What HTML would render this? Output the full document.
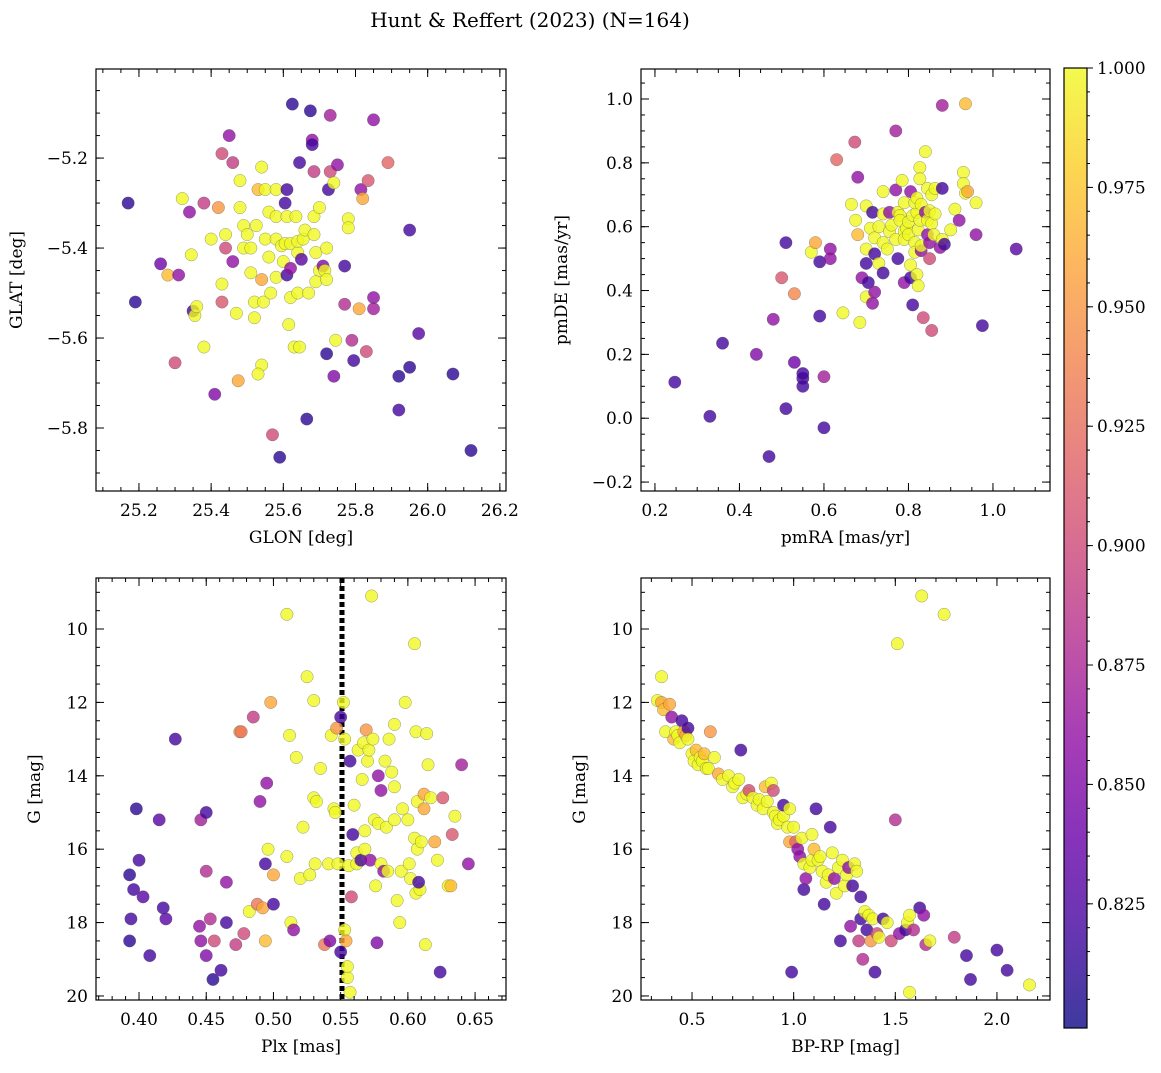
<!DOCTYPE html>
<html><head><meta charset="utf-8">
<style>
html,body{margin:0;padding:0;background:#fff;}
svg text{font-family:"DejaVu Serif","Liberation Serif",serif;fill:#000;}
</style></head>
<body>
<svg id="fig" width="1161" height="1068" viewBox="0 0 1161 1068" xmlns="http://www.w3.org/2000/svg">
<rect width="1161" height="1068" fill="#fff"/>
<text x="530" y="27" font-size="20" text-anchor="middle">Hunt &amp; Reffert (2023) (N=164)</text>
</svg>
<script>
// ---------- data ----------
const p1Glon=[25.17,25.19,25.26,25.28,25.30,25.31,25.32,25.34,25.345,25.35,25.355,25.36,25.38,25.38,25.40,25.41,25.42,25.43,25.43,25.43,25.44,25.44,25.45,25.46,25.46,25.47,25.475,25.48,25.48,25.49,25.49,25.50,25.51,25.51,25.52,25.52,25.525,25.53,25.54,25.54,25.545,25.55,25.55,25.54,25.53,25.56,25.56,25.565,25.57,25.58,25.58,25.58,25.58,25.595,25.60,25.605,25.61,25.61,25.615,25.605,25.59,25.625,25.62,25.62,25.61,25.62,25.635,25.64,25.64,25.63,25.645,25.64,25.65,25.645,25.655,25.66,25.665,25.67,25.675,25.68,25.68,25.685,25.685,25.69,25.70,25.69,25.685,25.70,25.71,25.715,25.72,25.72,25.72,25.725,25.73,25.73,25.74,25.745,25.74,25.75,25.77,25.78,25.78,25.77,25.795,25.79,25.81,25.815,25.82,25.83,25.835,25.85,25.85,25.85,25.89,25.95,25.95,25.92,25.92,25.975,26.07,26.12];
const p1Glat=[-5.30,-5.52,-5.435,-5.46,-5.655,-5.46,-5.29,-5.32,-5.415,-5.54,-5.55,-5.53,-5.30,-5.62,-5.38,-5.725,-5.31,-5.19,-5.48,-5.52,-5.37,-5.40,-5.15,-5.21,-5.43,-5.545,-5.695,-5.25,-5.31,-5.35,-5.40,-5.37,-5.40,-5.455,-5.52,-5.555,-5.35,-5.27,-5.22,-5.47,-5.52,-5.27,-5.38,-5.66,-5.68,-5.32,-5.42,-5.50,-5.815,-5.33,-5.38,-5.465,-5.27,-5.395,-5.43,-5.30,-5.27,-5.33,-5.57,-5.39,-5.865,-5.08,-5.39,-5.51,-5.46,-5.445,-5.33,-5.41,-5.385,-5.62,-5.62,-5.50,-5.425,-5.21,-5.38,-5.36,-5.78,-5.50,-5.095,-5.16,-5.17,-5.33,-5.37,-5.41,-5.45,-5.475,-5.23,-5.31,-5.44,-5.45,-5.40,-5.47,-5.635,-5.27,-5.23,-5.105,-5.685,-5.605,-5.255,-5.215,-5.44,-5.335,-5.355,-5.525,-5.65,-5.605,-5.535,-5.27,-5.29,-5.63,-5.25,-5.115,-5.535,-5.51,-5.21,-5.36,-5.665,-5.685,-5.76,-5.59,-5.68,-5.85];
const p1Prob=[.81,.81,.84,.97,.90,.86,1,.86,1,.82,1,1,.89,1,1,.85,.95,.90,1,.91,1,.90,.86,.89,.86,1,.96,1,1,1,1,1,1,1,1,1,1,.97,1,.96,1,1,1,1,1,1,1,1,.90,1,1,1,1,1,1,.82,.82,1,1,1,.81,.81,1,1,.82,.86,1,1,1,1,1,1,.83,.82,1,1,.81,1,.81,.86,.82,1,1,1,1,1,.89,1,.85,1,1,1,.81,.82,.90,.87,.85,1,1,.86,.82,1,1,.88,.82,.88,.96,.86,.96,.90,.91,.86,.87,.86,.92,.82,.81,.81,.82,.83,.81,.81];

const p2PmRA=[0.247,0.33,0.36,0.44,0.47,0.48,0.50,0.51,0.51,0.53,0.53,0.55,0.55,0.55,0.57,0.58,0.59,0.59,0.60,0.60,0.615,0.615,0.63,0.645,0.665,0.673,0.68,0.68,0.675,0.685,0.69,0.70,0.70,0.70,0.70,0.705,0.71,0.715,0.715,0.72,0.72,0.72,0.73,0.73,0.74,0.74,0.74,0.74,0.75,0.755,0.755,0.76,0.77,0.77,0.77,0.775,0.775,0.78,0.78,0.785,0.79,0.79,0.79,0.79,0.795,0.80,0.80,0.805,0.805,0.805,0.81,0.81,0.815,0.815,0.82,0.815,0.82,0.82,0.823,0.823,0.827,0.827,0.827,0.83,0.83,0.83,0.835,0.84,0.84,0.845,0.845,0.845,0.85,0.85,0.85,0.855,0.855,0.855,0.86,0.863,0.863,0.875,0.88,0.88,0.88,0.885,0.90,0.91,0.92,0.93,0.93,0.935,0.935,0.94,0.96,0.96,0.975,1.055];
const p2PmDE=[0.113,0.006,0.235,0.20,-0.12,0.31,0.44,0.55,0.03,0.39,0.175,0.125,0.14,0.10,0.52,0.55,0.49,0.32,0.13,-0.03,0.53,0.50,0.81,0.33,0.67,0.865,0.755,0.575,0.62,0.30,0.44,0.53,0.485,0.665,0.38,0.425,0.595,0.645,0.36,0.395,0.565,0.515,0.60,0.485,0.455,0.55,0.64,0.71,0.53,0.585,0.645,0.605,0.715,0.56,0.90,0.645,0.50,0.635,0.62,0.745,0.675,0.585,0.56,0.425,0.595,0.615,0.575,0.48,0.44,0.71,0.355,0.635,0.55,0.52,0.645,0.675,0.69,0.45,0.415,0.59,0.785,0.75,0.62,0.67,0.525,0.54,0.315,0.835,0.645,0.72,0.575,0.62,0.65,0.50,0.55,0.275,0.70,0.61,0.575,0.64,0.72,0.535,0.72,0.56,0.98,0.545,0.59,0.655,0.62,0.77,0.735,0.985,0.705,0.71,0.675,0.575,0.29,0.53];
const p2Prob=[.82,.82,.82,.85,.82,.86,.91,.82,.82,.94,.84,.82,.82,.82,1,.96,.82,.82,.87,.82,.86,.86,.92,1,1,.90,.86,.97,1,1,.86,1,.82,1,1,.82,1,.82,.86,.86,1,.82,1,1,.82,1,1,1,1,1,.86,1,.86,1,.87,1,.82,1,1,1,1,1,1,.86,1,1,1,1,.82,.86,.82,1,1,1,1,1,1,1,1,1,1,1,1,1,.86,1,.90,1,.86,1,.86,1,1,.90,.86,.90,1,1,1,1,1,.86,.82,1,.87,.82,1,1,.86,1,1,.97,1,.96,1,.86,.82,.83];

const p3Plx=[0.393,0.393,0.394,0.396,0.398,0.40,0.403,0.408,0.415,0.418,0.42,0.427,0.445,0.446,0.446,0.450,0.450,0.450,0.453,0.455,0.456,0.461,0.465,0.465,0.472,0.475,0.476,0.478,0.482,0.485,0.488,0.490,0.492,0.494,0.494,0.495,0.496,0.498,0.500,0.500,0.51,0.51,0.512,0.513,0.515,0.517,0.52,0.522,0.525,0.527,0.53,0.532,0.531,0.538,0.53,0.535,0.541,0.542,0.543,0.545,0.546,0.547,0.548,0.550,0.550,0.552,0.553,0.553,0.554,0.555,0.555,0.556,0.557,0.558,0.557,0.559,0.560,0.562,0.562,0.563,0.565,0.566,0.567,0.568,0.568,0.569,0.570,0.571,0.572,0.573,0.574,0.575,0.576,0.577,0.578,0.578,0.580,0.580,0.582,0.583,0.584,0.585,0.586,0.588,0.590,0.590,0.590,0.592,0.594,0.595,0.596,0.598,0.600,0.601,0.602,0.605,0.605,0.606,0.606,0.607,0.607,0.609,0.608,0.610,0.612,0.612,0.613,0.614,0.615,0.617,0.620,0.622,0.624,0.626,0.630,0.632,0.633,0.635,0.64,0.645];
const p3G=[16.7,18.5,17.9,17.1,14.9,16.3,17.3,18.9,15.2,17.6,17.9,13.0,18.1,18.5,15.2,16.6,15.0,18.9,17.9,19.55,18.5,19.3,16.9,18.0,18.6,12.8,12.8,18.3,17.7,12.4,17.5,14.7,17.6,16.4,18.5,14.2,16.0,12.0,16.7,17.5,9.6,16.2,12.9,18.0,18.2,13.5,16.8,15.4,11.3,16.7,14.6,14.7,16.4,18.6,11.95,13.8,16.4,18.5,12.9,14.9,15.0,12.7,16.4,18.8,12.4,12.0,13.0,18.2,18.5,19.5,19.2,16.45,19.9,17.3,13.6,15.6,14.8,16.1,16.4,13.3,16.3,14.1,13.1,15.5,16.0,12.75,13.6,13.3,16.3,9.1,13.0,15.2,17.0,18.55,15.3,14.0,16.4,14.4,16.6,13.6,15.4,16.6,13.0,13.9,15.2,14.3,12.6,17.4,18.0,16.6,14.9,12.0,15.2,16.4,16.8,15.7,10.4,12.8,17.2,14.7,16.0,17.1,16.9,15.8,14.5,14.9,18.6,12.85,13.7,14.6,15.8,16.3,19.35,14.6,17.0,17.0,15.6,15.1,13.7,16.4];
const p3Prob=[.81,.81,.82,.82,.81,.82,.83,.82,.83,.82,.83,.82,.86,.86,.87,.88,.82,.85,.88,.81,.90,.82,.86,.82,.89,.95,.93,.90,1,.89,.93,.86,.96,.82,.97,.86,1,.96,.96,.82,1,1,1,1,.86,1,1,1,1,1,1,1,1,.93,1,1,1,.85,1,1,1,.95,1,.82,.82,1,1,1,.96,1,1,1,1,.90,.82,.82,1,1,1,1,.82,1,1,1,1,.95,1,1,.86,1,1,1,1,.85,1,.86,1,.86,.86,1,1,1,1,1,1,1,1,1,1,1,1,1,1,1,1,1,1,1,1,1,1,1,.82,1,.96,.96,1,1,1,1,.96,1,.82,.91,1,.97,.91,1,.87,.86];

const p4Color=[0.33,0.35,0.35,0.36,0.37,0.39,0.40,0.41,0.42,0.43,0.44,0.45,0.46,0.47,0.48,0.48,0.50,0.51,0.52,0.53,0.54,0.55,0.56,0.57,0.58,0.59,0.61,0.63,0.65,0.68,0.70,0.71,0.73,0.74,0.75,0.77,0.78,0.80,0.82,0.83,0.85,0.86,0.87,0.89,0.90,0.90,0.91,0.92,0.93,0.95,0.95,0.97,0.98,0.98,0.99,1.00,1.01,1.02,1.03,1.04,1.05,1.05,1.06,1.08,1.09,1.09,1.10,1.11,1.12,1.13,1.14,1.15,1.16,1.17,1.18,1.19,1.20,1.21,1.22,1.23,1.24,1.25,1.26,1.27,1.28,1.29,1.30,1.31,1.32,1.33,1.33,1.34,1.35,1.36,1.37,1.38,1.39,1.40,1.41,1.42,1.44,1.46,1.48,1.50,1.51,1.52,1.55,1.56,1.57,1.57,1.59,1.62,1.63,1.64,1.65,1.67,1.74,1.79,1.85,1.87,2.00,2.05,2.16];
const p4G=[11.95,11.3,12.0,12.2,12.8,12.05,12.4,13.0,12.8,12.9,13.1,12.5,12.8,12.9,12.7,13.0,13.4,13.6,13.3,13.7,13.5,13.6,13.4,13.8,13.8,12.8,13.5,13.95,14.1,14.0,14.3,14.2,14.1,13.3,14.6,14.5,14.4,14.6,14.8,14.65,14.9,14.3,14.7,14.2,15.0,14.4,15.1,15.3,15.2,15.1,14.8,15.4,15.8,14.9,19.35,15.4,15.8,16.0,16.2,15.7,16.4,17.1,16.8,16.5,15.6,16.3,16.0,14.9,16.3,16.2,16.6,17.5,16.9,16.7,15.4,16.1,16.8,17.2,16.5,18.5,16.3,17.0,16.7,16.5,18.1,17.0,16.4,16.6,18.5,17.9,17.3,19.0,17.7,18.2,17.8,18.5,17.9,19.35,18.3,18.4,17.9,18.0,18.5,15.2,10.4,18.3,18.2,18.0,17.8,19.9,18.2,17.6,9.1,17.8,18.6,18.5,9.6,18.4,18.9,19.55,18.75,19.3,19.7];
const p4Prob=[1,1,.96,.97,1,.96,.86,.97,1,1,1,.82,.96,.96,.82,1,1,1,.97,1,1,1,.97,1,1,.95,1,.96,1,1,1,1,1,.82,1,1,.90,1,1,1,1,.97,1,1,1,.90,1,1,1,1,.82,1,.96,1,.82,1,.92,.86,.86,1,1,.82,.86,1,1,1,.97,.82,1,1,1,.82,1,1,.82,1,.86,1,1,.82,1,1,1,.86,.86,.82,1,1,.89,.82,.82,.88,1,.82,1,.95,1,.82,.90,1,.82,1,.90,.88,1,.86,.82,1,1,1,.88,.82,1,.86,.88,1,1,.89,.82,.82,.82,.82,1];

const plxCut=[0.551];
const xTicks1=[25.2,25.4,25.6,25.8,26.0,26.2];
const yTicks1=[-5.2,-5.4,-5.6,-5.8];
const xTicks2=[0.2,0.4,0.6,0.8,1.0];
const yTicks2=[-0.2,0.0,0.2,0.4,0.6,0.8,1.0];
const xTicks3=[0.40,0.45,0.50,0.55,0.60,0.65];
const gTicks=[10,12,14,16,18,20];
const xTicks4=[0.5,1.0,1.5,2.0];
const cbTicks=[0.825,0.850,0.875,0.900,0.925,0.950,0.975,1.000];

// ---------- helpers ----------
const NS="http://www.w3.org/2000/svg";
const svg=document.getElementById('fig');
function mk(tag,attrs,parent){const e=document.createElementNS(NS,tag);for(const k in attrs)e.setAttribute(k,attrs[k]);(parent||svg).appendChild(e);return e;}
const plasma=["#0d0887","#41049d","#6a00a8","#8f0da4","#b12a90","#cc4778","#e16462","#f2844b","#fca636","#fcce25","#f0f921"];
function hex(h){return [parseInt(h.substr(1,2),16),parseInt(h.substr(3,2),16),parseInt(h.substr(5,2),16)];}
function cmap(t){t=Math.max(0,Math.min(1,t));const f=t*10,i=Math.min(9,Math.floor(f)),r=f-i;const a=hex(plasma[i]),b=hex(plasma[i+1]);return 'rgb('+a.map((v,k)=>Math.round(v+(b[k]-v)*r)).join(',')+')';}
const VMIN=0.799,VMAX=1.0;
function fmt(v,d){return (v<0?'\u2212':'')+Math.abs(v).toFixed(d);}

function panel(cfg){
  const g=mk('g',{});
  
  
  const sx=v=>cfg.L+(v-cfg.xmin)/(cfg.xmax-cfg.xmin)*(cfg.R-cfg.L);
  const sy=v=>cfg.T+(v-cfg.vTop)/(cfg.vBot-cfg.vTop)*(cfg.B-cfg.T);
  const clip='clip-'+cfg.name;
  const cp=mk('clipPath',{id:clip},g);mk('rect',{x:cfg.L,y:cfg.T,width:cfg.R-cfg.L,height:cfg.B-cfg.T},cp);
  const pts=mk('g',{'clip-path':'url(#'+clip+')'},g);
  
  
  if(cfg.vline){cfg.vline.forEach(v=>{const l=mk('line',{x1:sx(v),x2:sx(v),y1:cfg.T,y2:cfg.B,stroke:'#000','stroke-width':5,'stroke-dasharray':'5 3'},pts);
    
    });}
  cfg.xs.forEach((xv,i)=>{
    const c=mk('circle',{cx:sx(xv),cy:sy(cfg.ys[i]),r:6.2,fill:cmap((cfg.ps[i]-VMIN)/(VMAX-VMIN)),'fill-opacity':0.8,stroke:'#555','stroke-opacity':0.6,'stroke-width':0.5},pts);
    
    
  });
  const fr=mk('rect',{x:cfg.L,y:cfg.T,width:cfg.R-cfg.L,height:cfg.B-cfg.T,fill:'none',stroke:'#000','stroke-width':1.2},g);
  
  
  const tk={stroke:'#000','stroke-width':1};
  for(let v=Math.ceil(cfg.xmin/cfg.xminor-1e-6)*cfg.xminor;v<=cfg.xmax;v+=cfg.xminor){const x=sx(v);mk('line',Object.assign({x1:x,x2:x,y1:cfg.B,y2:cfg.B-4},tk),g);mk('line',Object.assign({x1:x,x2:x,y1:cfg.T,y2:cfg.T+4},tk),g);}
  const ylo=Math.min(cfg.vTop,cfg.vBot),yhi=Math.max(cfg.vTop,cfg.vBot);
  for(let v=Math.ceil(ylo/cfg.yminor-1e-6)*cfg.yminor;v<=yhi;v+=cfg.yminor){const y=sy(v);mk('line',Object.assign({x1:cfg.L,x2:cfg.L+4,y1:y,y2:y},tk),g);mk('line',Object.assign({x1:cfg.R,x2:cfg.R-4,y1:y,y2:y},tk),g);}
  cfg.xt.forEach(v=>{const x=sx(v);mk('line',Object.assign({x1:x,x2:x,y1:cfg.B,y2:cfg.B-8},tk),g);mk('line',Object.assign({x1:x,x2:x,y1:cfg.T,y2:cfg.T+8},tk),g);
    const t=mk('text',{x:x,y:cfg.B+25,'font-size':17,'text-anchor':'middle'},g);t.textContent=fmt(v,cfg.xd);
    
    });
  cfg.yt.forEach(v=>{const y=sy(v);mk('line',Object.assign({x1:cfg.L,x2:cfg.L+8,y1:y,y2:y},tk),g);mk('line',Object.assign({x1:cfg.R,x2:cfg.R-8,y1:y,y2:y},tk),g);
    const t=mk('text',{x:cfg.L-8,y:y+6,'font-size':17,'text-anchor':'end'},g);t.textContent=fmt(v,cfg.yd);
    
    });
  const xl=mk('text',{x:(cfg.L+cfg.R)/2,y:cfg.B+52,'font-size':17,'text-anchor':'middle'},g);xl.textContent=cfg.xlabel;
  
  
  const yx=cfg.L-cfg.ylOff,yy=(cfg.T+cfg.B)/2;
  const yl=mk('text',{x:yx,y:yy,'font-size':17,'text-anchor':'middle',transform:'rotate(-90 '+yx+' '+yy+')'},g);yl.textContent=cfg.ylabel;
  
  
}

panel({name:'sky-position-panel',L:96,R:506,T:69,B:491,xmin:25.081,xmax:26.217,vTop:-5.002,vBot:-5.94,xminor:0.05,yminor:0.05,xt:xTicks1,yt:yTicks1,xd:1,yd:1,xs:p1Glon,ys:p1Glat,ps:p1Prob,xlabel:'GLON [deg]',ylabel:'GLAT [deg]',ylOff:74});
panel({name:'proper-motion-panel',L:641,R:1050,T:69,B:491,xmin:0.167,xmax:1.135,vTop:1.094,vBot:-0.228,xminor:0.05,yminor:0.05,xt:xTicks2,yt:yTicks2,xd:1,yd:1,xs:p2PmRA,ys:p2PmDE,ps:p2Prob,xlabel:'pmRA [mas/yr]',ylabel:'pmDE [mas/yr]',ylOff:74});
panel({name:'parallax-magnitude-panel',L:96,R:506,T:578,B:1000,xmin:0.368,xmax:0.673,vTop:8.61,vBot:20.11,xminor:0.01,yminor:0.5,xt:xTicks3,yt:gTicks,xd:2,yd:0,xs:p3Plx,ys:p3G,ps:p3Prob,xlabel:'Plx [mas]',ylabel:'G [mag]',ylOff:56,vline:plxCut});
panel({name:'color-magnitude-panel',L:641,R:1050,T:578,B:1000,xmin:0.249,xmax:2.261,vTop:8.61,vBot:20.11,xminor:0.1,yminor:0.5,xt:xTicks4,yt:gTicks,xd:1,yd:0,xs:p4Color,ys:p4G,ps:p4Prob,xlabel:'BP-RP [mag]',ylabel:'G [mag]',ylOff:56});

// colorbar
(function(){
  const L=1064,R=1087,T=68,B=1028;
  const g=mk('g',{});
  
  
  const defs=mk('defs',{},g);
  const lg=mk('linearGradient',{id:'cbgrad',x1:0,y1:1,x2:0,y2:0},defs);
  for(let i=0;i<=10;i++){mk('stop',{offset:i/10,'stop-color':plasma[i],'stop-opacity':0.8},lg);}
  mk('rect',{x:L,y:T,width:R-L,height:B-T,fill:'url(#cbgrad)',stroke:'#000','stroke-width':1.2},g);
  const sy=v=>B-(v-VMIN)/(VMAX-VMIN)*(B-T);
  for(let v=0.805;v<VMAX;v+=0.005){const y=sy(v);mk('line',{x1:R,x2:R+3,y1:y,y2:y,stroke:'#000','stroke-width':1},g);}
  cbTicks.forEach(v=>{const y=sy(v);mk('line',{x1:R,x2:R+6,y1:y,y2:y,stroke:'#000','stroke-width':1},g);
    const t=mk('text',{x:R+10,y:y+6,'font-size':17},g);t.textContent=v.toFixed(3);
    
    });
})();
</script>
</body></html>
